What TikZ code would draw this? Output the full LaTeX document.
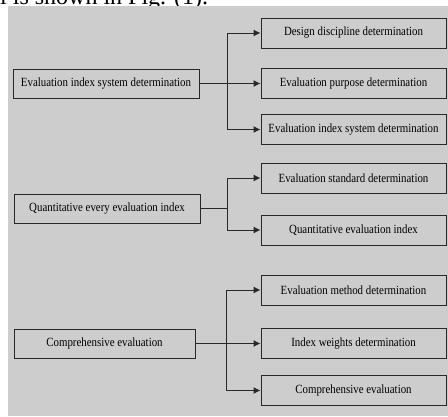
\documentclass[tikz,border=0pt]{standalone}
\usepackage{fontspec}
\setmainfont{Liberation Serif}
\newfontfamily\boxfont{Liberation Serif}[FakeStretch=0.87]
\usetikzlibrary{arrows.meta}
\definecolor{panel}{RGB}{205,205,205}
\definecolor{edgegray}{RGB}{40,40,40}
\tikzset{
every node/.style={ % Text in the boxes
font=\boxfont\fontsize{12.5}{14}\selectfont},
stage/.style={ % Boxes on the left
draw=edgegray, line width=0.9pt,
minimum width=186pt, minimum height=29pt, inner sep=0pt},
task/.style={ % Boxes on the right
draw=edgegray, line width=0.9pt,
minimum width=185pt, minimum height=30pt, inner sep=0pt},
link/.style={draw=edgegray, line width=1pt},
flow/.style={link, -{Latex[length=7pt,width=7pt]}}}

\begin{document}
\begin{tikzpicture}[x=1pt, y=-1pt]
\useasboundingbox (0,0) rectangle (448,416);
\node[anchor=base west, inner sep=0pt, font=\rmfamily\fontsize{24}{28}\selectfont] (lead) at (0,4) {l is shown in Fig. (1).};
\fill[panel] (8,6) rectangle (448,416);

\node[stage] (sys) at (106,83.5) {Evaluation index system determination};
\node[stage] (quant) at (107,208.5) {Quantitative every evaluation index};
\node[stage, minimum width=181pt] (comp) at (104.5,343.5) {Comprehensive evaluation};

\node[task] (disc) at (353.5,33) {Design discipline determination};
\node[task] (purp) at (353.5,83.5) {Evaluation purpose determination};
\node[task] (isys) at (353.5,129.5) {Evaluation index system determination};
\node[task] (std) at (353.5,178) {Evaluation standard determination};
\node[task] (qidx) at (353.5,230) {Quantitative evaluation index};
\node[task] (meth) at (353.5,290) {Evaluation method determination};
\node[task] (wts) at (353.5,343.5) {Index weights determination};
\node[task] (cres) at (353.5,390.5) {Comprehensive evaluation};

\coordinate (j1) at (227,83.5);
\coordinate (j2) at (227,208.5);
\coordinate (j3) at (226,343.5);

\draw[link] (sys) -- (j1);
\draw[flow] (j1) |- (disc.west);
\draw[flow] (j1) -- (purp.west);
\draw[flow] (j1) |- (isys.west);

\draw[link] (quant) -- (j2);
\draw[flow] (j2) |- (std.west);
\draw[flow] (j2) |- (qidx.west);

\draw[link] (comp) -- (j3);
\draw[flow] (j3) |- (meth.west);
\draw[flow] (j3) -- (wts.west);
\draw[flow] (j3) |- (cres.west);
\end{tikzpicture}
\end{document}
